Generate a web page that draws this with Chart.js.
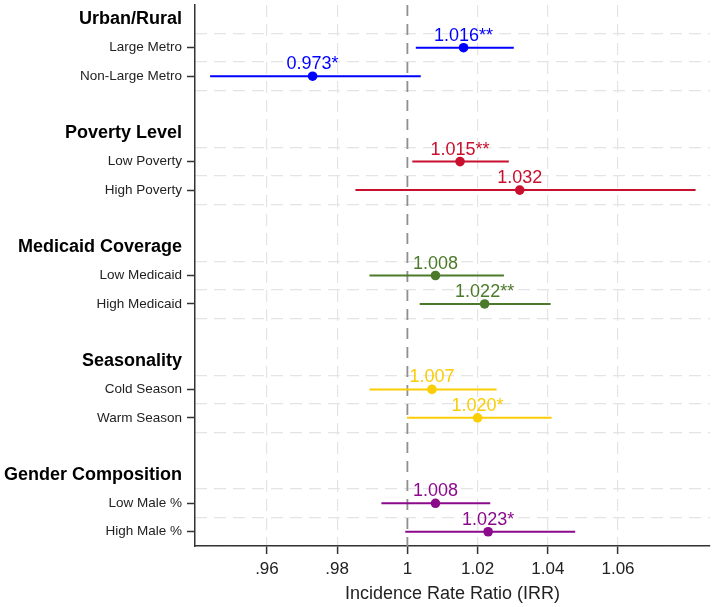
<!DOCTYPE html>
<html>
<head>
<meta charset="utf-8">
<script src="https://cdn.jsdelivr.net/npm/chart.js@4.4.1/dist/chart.umd.min.js"></script>
<style>
  body { margin: 0; background: #fff; }
  canvas { display: block; }
</style>
</head>
<body>
<canvas id="irrChart" width="715" height="607"></canvas>
<script>
const groups = ['Urban/Rural', 'Poverty Level', 'Medicaid Coverage', 'Seasonality', 'Gender Composition'];
const groupColors = ['#0000ff', '#c8102e', '#4b7a2b', '#fbcd06', '#8b0a8b'];
const rowLabels = ['Large Metro', 'Non-Large Metro', 'Low Poverty', 'High Poverty', 'Low Medicaid',
                   'High Medicaid', 'Cold Season', 'Warm Season', 'Low Male %', 'High Male %'];
const irr = [1.016, 0.973, 1.015, 1.032, 1.008, 1.022, 1.007, 1.020, 1.008, 1.023];
const ciLow = [1.0024, 0.9438, 1.0014, 0.9852, 0.9892, 1.0035, 0.9892, 0.9999, 0.9926, 0.9994];
const ciHigh = [1.0303, 1.0038, 1.0289, 1.0821, 1.0275, 1.0408, 1.0254, 1.0411, 1.0236, 1.0478];
const stars = ['**', '*', '**', '', '', '**', '', '*', '', '*'];
const xTicks = [0.96, 0.98, 1, 1.02, 1.04, 1.06];

// each group: header slot, two rows, one blank slot
const rowPos = rowLabels.map((_, i) => Math.floor(i / 2) * 4 + 1 + (i % 2));
const rowGroup = rowLabels.map((_, i) => Math.floor(i / 2));
const headerPos = groups.map((_, g) => g * 4);
const gridPos = [];
groups.forEach((_, g) => gridPos.push(g * 4 + 0.5, g * 4 + 1.5, g * 4 + 2.5));

Chart.defaults.font.family = '"Liberation Sans", Arial, Helvetica, sans-serif';

const ciSets = rowLabels.map((lab, i) => ({
  label: lab + ' CI',
  data: [{x: ciLow[i], y: rowPos[i]}, {x: ciHigh[i], y: rowPos[i]}],
  showLine: true,
  borderColor: groupColors[rowGroup[i]],
  borderWidth: 2,
  pointRadius: 0,
  order: 1
}));

const pointSet = {
  label: 'IRR',
  data: irr.map((v, i) => ({x: v, y: rowPos[i]})),
  pointRadius: 4.8,
  pointHoverRadius: 4.8,
  pointBackgroundColor: rowGroup.map(g => groupColors[g]),
  pointBorderWidth: 0,
  showLine: false,
  order: 0
};

const refLine = {
  label: 'IRR = 1',
  data: [{x: 1, y: -0.5}, {x: 1, y: 18.5}],
  showLine: true,
  borderColor: '#8f8f8f',
  borderWidth: 1.8,
  borderDash: [11, 8],
  pointRadius: 0,
  order: 2
};

const valueLabels = {
  id: 'valueLabels',
  afterDatasetsDraw(chart) {
    const idx = chart.data.datasets.indexOf(pointSet);
    const meta = chart.getDatasetMeta(idx);
    const ctx = chart.ctx;
    ctx.save();
    ctx.font = '18px "Liberation Sans", Arial, sans-serif';
    ctx.textAlign = 'center';
    ctx.textBaseline = 'alphabetic';
    meta.data.forEach((pt, i) => {
      ctx.fillStyle = groupColors[rowGroup[i]];
      ctx.fillText(irr[i].toFixed(3) + stars[i], pt.x, pt.y - 7);
    });
    ctx.restore();
  }
};

function yLabel(v) {
  const h = headerPos.indexOf(v);
  if (h >= 0) return groups[h];
  const r = rowPos.indexOf(v);
  return r >= 0 ? rowLabels[r] : '';
}
const isHeader = c => !!(c && c.tick && headerPos.indexOf(c.tick.value) >= 0);

new Chart(document.getElementById('irrChart'), {
  type: 'scatter',
  data: { datasets: [pointSet, ...ciSets, refLine] },
  options: {
    responsive: false,
    animation: false,
    layout: { padding: { top: 5, right: 5, left: 0, bottom: 0 } },
    plugins: { legend: { display: false }, tooltip: { enabled: false } },
    scales: {
      x: {
        type: 'linear',
        min: 0.9395,
        max: 1.0862,
        afterBuildTicks: s => { s.ticks = xTicks.map(v => ({value: v})); },
        afterFit: s => { s.height = 61; s.paddingLeft = 0; s.paddingRight = 0; },
        ticks: {
          autoSkip: false,
          padding: 5,
          color: '#222',
          font: { size: 17 },
          callback: v => (v === 1 ? '1' : (v < 1 ? String(+v.toFixed(2)).replace(/^0/, '') : String(+v.toFixed(2))))
        },
        grid: {
          color: c => (c.tick && c.tick.value === 1 ? 'rgba(0,0,0,0)' : '#e4e4e4'),
          lineWidth: 1.2,
          tickColor: '#333',
          tickLength: 8,
          tickWidth: 1.5
        },
        border: { color: '#333', width: 1.5, dash: [12, 7] },
        title: {
          display: true,
          text: 'Incidence Rate Ratio (IRR)',
          color: '#222',
          font: { size: 18 },
          padding: { top: 0, bottom: 2 }
        }
      },
      y: {
        type: 'linear',
        reverse: true,
        min: -0.5,
        max: 18.5,
        afterBuildTicks: s => {
          s.ticks = headerPos.concat(rowPos).sort((a, b) => a - b).map(v => ({value: v}));
        },
        afterFit: s => { s.width = 195; s.paddingTop = 0; s.paddingBottom = 0; },
        ticks: {
          autoSkip: false,
          padding: 5,
          callback: v => yLabel(v),
          color: c => (isHeader(c) ? '#000' : '#222'),
          font: c => (isHeader(c) ? { size: 18, weight: 'bold' } : { size: 13.5 })
        },
        grid: {
          drawOnChartArea: false,
          tickLength: 8,
          tickWidth: 1.5,
          tickColor: c => (isHeader(c) ? 'rgba(0,0,0,0)' : '#333')
        },
        border: { color: '#333', width: 1.5 }
      },
      yGrid: {
        type: 'linear',
        position: 'left',
        reverse: true,
        min: -0.5,
        max: 18.5,
        afterBuildTicks: s => { s.ticks = gridPos.map(v => ({value: v})); },
        afterFit: s => { s.width = 0; s.paddingTop = 0; s.paddingBottom = 0; },
        ticks: { display: false },
        grid: { color: '#e4e4e4', lineWidth: 1.2, drawTicks: false },
        border: { display: false, dash: [12, 7] }
      }
    }
  },
  plugins: [valueLabels]
});
</script>
</body>
</html>
